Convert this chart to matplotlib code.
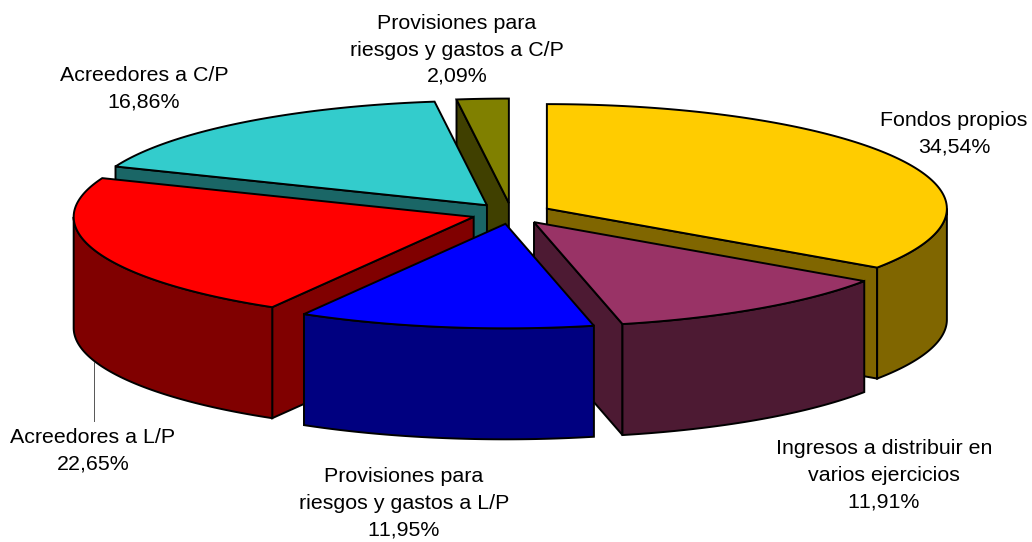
import numpy as np
import matplotlib
matplotlib.use("Agg")
import matplotlib.pyplot as plt
from matplotlib.patches import Polygon

plt.rcParams['font.family'] = ['Liberation Sans', 'DejaVu Sans']
plt.rcParams['text.kerning_factor'] = 6

# Data (clockwise from 12 o'clock)
categories = ["Fondos propios", "Ingresos a distribuir en\nvarios ejercicios",
              "Provisiones para\nriesgos y gastos a L/P", "Acreedores a L/P",
              "Acreedores a C/P", "Provisiones para\nriesgos y gastos a C/P"]
shares = [34.54, 11.91, 11.95, 22.65, 16.86, 2.09]
pct_labels = ["34,54%", "11,91%", "11,95%", "22,65%", "16,86%", "2,09%"]

# Style
top_colors = ["#FFCC00", "#993366", "#0000FF", "#FF0000", "#33CCCC", "#808000"]
side_colors = ["#806600", "#4D1A33", "#000080", "#800000", "#1A6666", "#404000"]
label_pos = [(954, 134), (884, 475.5), (404, 503.5), (93, 451), (144, 89), (457, 50)]
draw_order = [5, 4, 0, 3, 1, 2]

# Projection of the pie
CX, CY = 511.5, 213.5
RX, RY = 400, 104.5
DEPTH = 111
EXPLODE = 0.10
LW = 1.4

fig = plt.figure(figsize=(10.32, 5.42), dpi=100)
ax = fig.add_axes([0, 0, 1, 1])
ax.set_xlim(0, 1032)
ax.set_ylim(542, 0)
ax.axis("off")

edges = np.concatenate([[0], np.cumsum(shares)]) / np.sum(shares) * 2 * np.pi


def rim(t, ox, oy, dz=0.0):
    t = np.asarray(t)
    return np.column_stack([ox + RX * np.sin(t), oy - RY * np.cos(t) + dz])


def poly(pts, color, z):
    ax.add_patch(Polygon(pts, closed=True, facecolor=color, edgecolor="black",
                         linewidth=LW, joinstyle="miter", zorder=z))


z = 1
for i in draw_order:
    t0, t1 = edges[i], edges[i + 1]
    mid = (t0 + t1) / 2
    ox = CX + EXPLODE * RX * np.sin(mid)
    oy = CY - EXPLODE * RY * np.cos(mid)
    apex = np.array([[ox, oy]])
    down = np.array([[0, DEPTH]])

    # radial walls that face the viewer
    for t, visible in ((t0, np.sin(t0) < -1e-6), (t1, np.sin(t1) > 1e-6)):
        if visible:
            p = rim([t], ox, oy)
            poly(np.vstack([apex, p, p + down, apex + down]), side_colors[i], z)
            z += 1

    # outer wall: front half of the rim only
    a, b = max(t0, np.pi / 2), min(t1, 3 * np.pi / 2)
    if b > a:
        ts = np.linspace(a, b, 120)
        poly(np.vstack([rim(ts, ox, oy), rim(ts[::-1], ox, oy, DEPTH)]), side_colors[i], z)
        z += 1

    # top face
    ts = np.linspace(t0, t1, 200)
    poly(np.vstack([apex, rim(ts, ox, oy)]), top_colors[i], z)
    z += 1

# leader line of Acreedores a L/P
ax.plot([93.5, 93.5], [362, 421], color="#555555", lw=0.7, zorder=z)

for name, pct, (x, y) in zip(categories, pct_labels, label_pos):
    ax.text(x, y, name + "\n" + pct, ha="center", va="center", fontsize=15.4,
            color="black", linespacing=1.5, zorder=z + 1)

fig.savefig("out.png", dpi=100)
